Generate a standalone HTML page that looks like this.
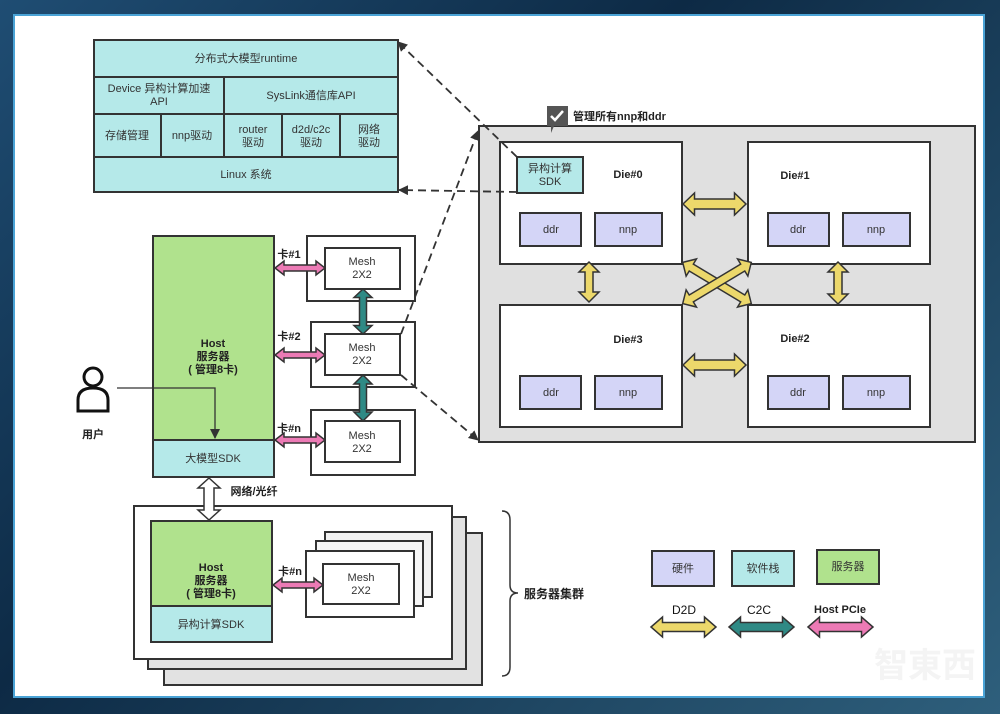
<!DOCTYPE html><html><head><meta charset="utf-8"><style>
body{margin:0;width:1000px;height:714px;overflow:hidden;background:linear-gradient(135deg,#1f4d73,#0d2a45 40%,#2e5f7c);}
svg{position:absolute;left:0;top:0}
text{font-family:"Liberation Sans","Noto Sans CJK SC",sans-serif;font-size:11px;fill:#333;text-anchor:middle;dominant-baseline:middle}
.b{font-weight:bold;fill:#222}
</style></head><body>
<svg width="1000" height="714" viewBox="0 0 1000 714">
<defs>
<marker id="ah" markerWidth="10" markerHeight="10" refX="9" refY="5" orient="auto" markerUnits="userSpaceOnUse"><path d="M0,0L10,5L0,10z" fill="#333"/></marker>
</defs>
<rect x="13" y="14" width="972" height="684" fill="#4aa3d6"/>
<rect x="15" y="16" width="968" height="680" fill="#fff"/>
<g stroke="#333" stroke-width="2">
<rect x="94" y="40" width="304" height="37" fill="#b5e9e9"/>
<rect x="94" y="77" width="130" height="37" fill="#b5e9e9"/>
<rect x="224" y="77" width="174" height="37" fill="#b5e9e9"/>
<rect x="94" y="114" width="67" height="43" fill="#b5e9e9"/>
<rect x="161" y="114" width="63" height="43" fill="#b5e9e9"/>
<rect x="224" y="114" width="58" height="43" fill="#b5e9e9"/>
<rect x="282" y="114" width="58" height="43" fill="#b5e9e9"/>
<rect x="340" y="114" width="58" height="43" fill="#b5e9e9"/>
<rect x="94" y="157" width="304" height="35" fill="#b5e9e9"/>
<rect x="479" y="126" width="496" height="316" fill="#e0e0e0"/>
<rect x="500" y="142" width="182" height="122" fill="#fff"/>
<rect x="748" y="142" width="182" height="122" fill="#fff"/>
<rect x="500" y="305" width="182" height="122" fill="#fff"/>
<rect x="748" y="305" width="182" height="122" fill="#fff"/>
<g fill="#d4d5f7">
<rect x="520" y="213" width="61" height="33"/><rect x="595" y="213" width="67" height="33"/>
<rect x="768" y="213" width="61" height="33"/><rect x="843" y="213" width="67" height="33"/>
<rect x="520" y="376" width="61" height="33"/><rect x="595" y="376" width="67" height="33"/>
<rect x="768" y="376" width="61" height="33"/><rect x="843" y="376" width="67" height="33"/>
</g>
<rect x="517" y="157" width="66" height="36" fill="#b5e9e9"/>
<rect x="153" y="236" width="121" height="204" fill="#b0e28d"/>
<rect x="153" y="440" width="121" height="37" fill="#b5e9e9"/>
<rect x="307" y="236" width="108" height="65" fill="#fff"/><rect x="325" y="248" width="75" height="41" fill="#fff"/>
<rect x="311" y="322" width="104" height="65" fill="#fff"/><rect x="325" y="334" width="75" height="41" fill="#fff"/>
<rect x="311" y="410" width="104" height="65" fill="#fff"/><rect x="325" y="421" width="75" height="41" fill="#fff"/>
<rect x="164" y="533" width="318" height="152" fill="#e2e2e2"/>
<rect x="148" y="517" width="318" height="152" fill="#e2e2e2"/>
<rect x="134" y="506" width="318" height="153" fill="#fff"/>
<rect x="151" y="521" width="121" height="85" fill="#b0e28d"/>
<rect x="151" y="606" width="121" height="36" fill="#b5e9e9"/>
<rect x="325" y="532" width="107" height="65" fill="#f2f2f2"/>
<rect x="316" y="541" width="107" height="65" fill="#f7f7f7"/>
<rect x="306" y="551" width="108" height="66" fill="#fff"/>
<rect x="323" y="564" width="76" height="40" fill="#fff"/>
<rect x="652" y="551" width="62" height="35" fill="#d4d5f7"/>
<rect x="732" y="551" width="62" height="35" fill="#b5e9e9"/>
<rect x="817" y="550" width="62" height="34" fill="#b0e28d"/>
</g>
<g stroke="#333" stroke-width="1.8" stroke-dasharray="8,5" fill="none" marker-end="url(#ah)">
<line x1="517" y1="157" x2="398" y2="42"/>
<line x1="517" y1="192" x2="399" y2="190"/>
<line x1="401" y1="334" x2="478" y2="131"/>
<line x1="401" y1="375" x2="478" y2="440"/>
</g>
<polyline points="117,388 215,388 215,438" fill="none" stroke="#333" stroke-width="1.3" marker-end="url(#ah)"/>
<g stroke="#111" stroke-width="3" fill="#fff">
<circle cx="93" cy="377" r="9"/>
<path d="M78,411 L78,400 Q78,388 93,388 Q108,388 108,400 L108,411 Z"/>
</g>
<g stroke="#333" stroke-width="1.5">
<g fill="#ecd86b">
<polygon transform="translate(714.5,204)" points="-31.5,0 -20,-11 -20,-5 20,-5 20,-11 31.5,0 20,11 20,5 -20,5 -20,11"/>
<polygon transform="translate(714.5,365)" points="-31.5,0 -20,-11 -20,-5 20,-5 20,-11 31.5,0 20,11 20,5 -20,5 -20,11"/>
<polygon transform="translate(589,282) rotate(90)" points="-20,0 -10,-10 -10,-4 10,-4 10,-10 20,0 10,10 10,4 -10,4 -10,10"/>
<polygon transform="translate(838,283) rotate(90)" points="-21,0 -11,-10 -11,-4 11,-4 11,-10 21,0 11,10 11,4 -11,4 -11,10"/>
<polygon transform="translate(717,283) rotate(31)" points="-40,0 -30,-10 -30,-4 30,-4 30,-10 40,0 30,10 30,4 -30,4 -30,10"/>
<polygon transform="translate(717,283) rotate(-31)" points="-40,0 -30,-10 -30,-4 30,-4 30,-10 40,0 30,10 30,4 -30,4 -30,10"/>
<polygon transform="translate(683.5,627)" points="-32.5,0 -21,-10 -21,-4.5 21,-4.5 21,-10 32.5,0 21,10 21,4.5 -21,4.5 -21,10"/>
</g>
<g fill="#2f8a85">
<polygon transform="translate(363,311.5) rotate(90)" points="-22.5,0 -14,-9 -14,-3.5 14,-3.5 14,-9 22.5,0 14,9 14,3.5 -14,3.5 -14,9"/>
<polygon transform="translate(363,398) rotate(90)" points="-23,0 -14,-9 -14,-3.5 14,-3.5 14,-9 23,0 14,9 14,3.5 -14,3.5 -14,9"/>
<polygon transform="translate(761.5,627)" points="-32.5,0 -21,-10 -21,-4.5 21,-4.5 21,-10 32.5,0 21,10 21,4.5 -21,4.5 -21,10"/>
</g>
<g fill="#ec7ab5">
<polygon transform="translate(300,268)" points="-25,0 -16,-7 -16,-3 16,-3 16,-7 25,0 16,7 16,3 -16,3 -16,7"/>
<polygon transform="translate(300,355)" points="-25,0 -16,-7 -16,-3 16,-3 16,-7 25,0 16,7 16,3 -16,3 -16,7"/>
<polygon transform="translate(300,440)" points="-25,0 -16,-7 -16,-3 16,-3 16,-7 25,0 16,7 16,3 -16,3 -16,7"/>
<polygon transform="translate(298,585)" points="-25,0 -16,-7 -16,-3 16,-3 16,-7 25,0 16,7 16,3 -16,3 -16,7"/>
<polygon transform="translate(840.5,627)" points="-32.5,0 -21,-10 -21,-4.5 21,-4.5 21,-10 32.5,0 21,10 21,4.5 -21,4.5 -21,10"/>
</g>
<polygon fill="#fff" transform="translate(209,499) rotate(90)" points="-21,0 -11,-11 -11,-5 11,-5 11,-11 21,0 11,11 11,5 -11,5 -11,11"/>
</g>
<path d="M502,511 Q510,511 510,520 L510,585 Q510,593 518,593 Q510,593 510,601 L510,667 Q510,676 502,676" fill="none" stroke="#333" stroke-width="1.5"/>
<path d="M547,106 h21 v20 h-14 l-3,7 v-7 h-4 z" fill="#555"/>
<path d="M551,116 l4,4 l8,-9" stroke="#fff" stroke-width="2.5" fill="none"/>
<text x="246" y="59">分布式大模型runtime</text>
<text x="159" y="89">Device 异构计算加速</text><text x="159" y="102">API</text>
<text x="311" y="96">SysLink通信库API</text>
<text x="127" y="136">存储管理</text>
<text x="192" y="136">nnp驱动</text>
<text x="253" y="130">router</text><text x="253" y="143">驱动</text>
<text x="311" y="130">d2d/c2c</text><text x="311" y="143">驱动</text>
<text x="369" y="130">网络</text><text x="369" y="143">驱动</text>
<text x="246" y="175">Linux 系统</text>
<text x="573" y="117" class="b" style="text-anchor:start">管理所有nnp和ddr</text>
<text x="550" y="169">异构计算</text><text x="550" y="182">SDK</text>
<text x="628" y="175" class="b">Die#0</text><text x="795" y="176" class="b">Die#1</text>
<text x="628" y="340" class="b">Die#3</text><text x="795" y="339" class="b">Die#2</text>
<text x="551" y="230">ddr</text><text x="628" y="230">nnp</text>
<text x="798" y="230">ddr</text><text x="876" y="230">nnp</text>
<text x="551" y="393">ddr</text><text x="628" y="393">nnp</text>
<text x="798" y="393">ddr</text><text x="876" y="393">nnp</text>
<text x="213" y="344" class="b">Host</text><text x="213" y="357" class="b">服务器</text><text x="213" y="370" class="b">( 管理8卡)</text>
<text x="213" y="459">大模型SDK</text>
<text x="362" y="262">Mesh</text><text x="362" y="275">2X2</text>
<text x="362" y="348">Mesh</text><text x="362" y="361">2X2</text>
<text x="362" y="436">Mesh</text><text x="362" y="449">2X2</text>
<text x="289" y="255" class="b">卡#1</text><text x="289" y="337" class="b">卡#2</text><text x="289" y="429" class="b">卡#n</text>
<text x="93" y="435" class="b">用户</text>
<text x="254" y="492" class="b">网络/光纤</text>
<text x="211" y="568" class="b">Host</text><text x="211" y="581" class="b">服务器</text><text x="211" y="594" class="b">( 管理8卡)</text>
<text x="211" y="625">异构计算SDK</text>
<text x="361" y="578">Mesh</text><text x="361" y="591">2X2</text>
<text x="290" y="572" class="b">卡#n</text>
<text x="554" y="595" class="b" style="font-size:12px">服务器集群</text>
<text x="683" y="569">硬件</text><text x="763" y="569">软件栈</text><text x="848" y="567">服务器</text>
<text x="684" y="611" style="font-size:12px;fill:#111">D2D</text>
<text x="759" y="611" style="font-size:12px;fill:#111">C2C</text>
<text x="840" y="610" class="b">Host PCIe</text>
<text x="925" y="668" style="font-size:34px;fill:#f4f4f4;font-weight:bold">智東西</text>
</svg>
</body></html>
